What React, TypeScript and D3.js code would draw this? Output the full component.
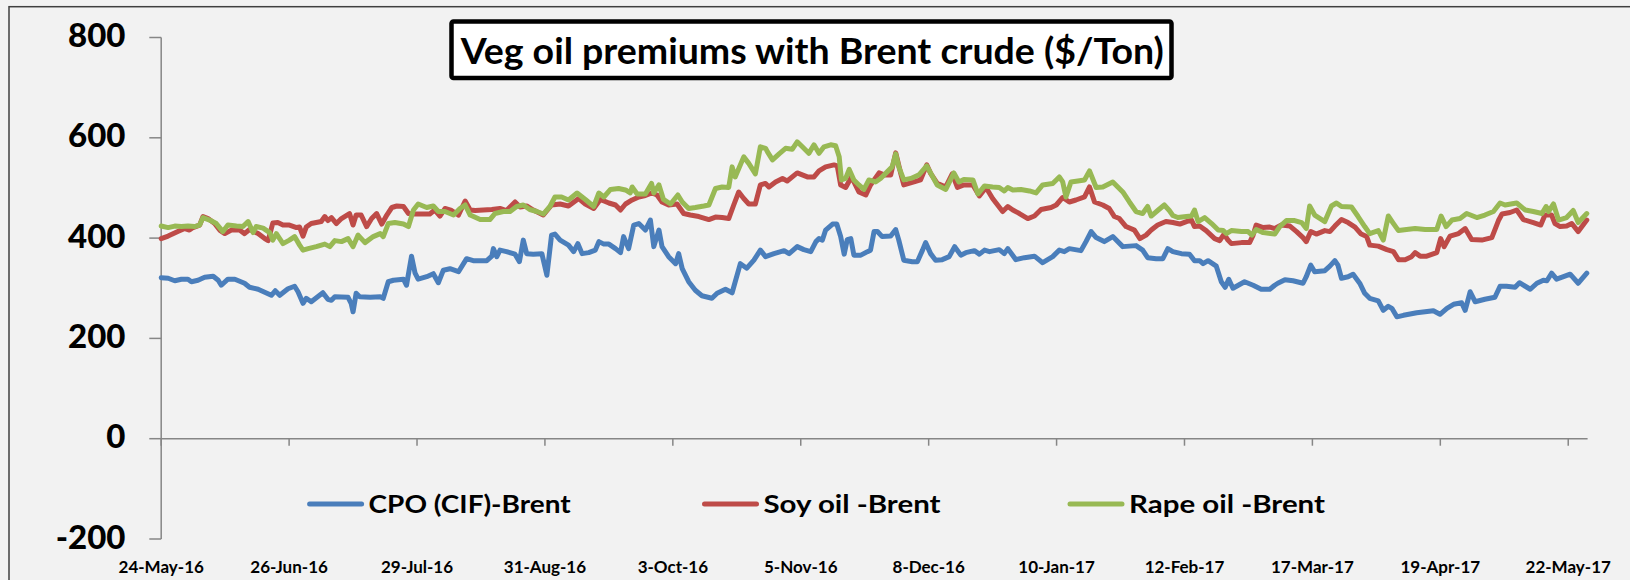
import React from 'react';
import * as d3 from 'd3';

// day offsets from 24-May-2016, premium in $/Ton
const START = '2016-05-24';
const END = '2017-05-27';

const xTickDates = [
  '2016-05-24', '2016-06-26', '2016-07-29', '2016-08-31', '2016-10-03', '2016-11-05',
  '2016-12-08', '2017-01-10', '2017-02-12', '2017-03-17', '2017-04-19', '2017-05-22',
];
const yTicks = [-200, 0, 200, 400, 600, 800];

const cpo: [number, number][] = [
  [0, 321], [1.8, 320], [3.5, 315], [5.2, 318], [6.9, 318], [7.8, 313], [9.5, 316], [11.2, 322], [13.4, 324], [14.7, 316],
  [15.5, 306], [17.2, 318], [19, 318], [21.5, 310], [22.8, 302], [25, 298], [28.4, 286], [29.4, 295], [30.6, 286], [32.7, 299],
  [34.4, 304], [35.3, 293], [36.6, 270], [37.4, 280], [38.7, 273], [41.7, 291], [43, 278], [43.9, 276], [44.8, 283], [48.2, 282],
  [49, 270], [49.5, 253], [50.3, 290], [51.2, 283], [53.9, 282], [56.5, 283], [57.3, 280], [58.6, 313], [59.9, 316], [62.5, 318],
  [63.3, 306], [64.6, 364], [65.5, 330], [66.3, 318], [68.5, 323], [70.2, 329], [71.5, 311], [72.8, 336], [74.5, 339], [76.7, 333],
  [78.8, 359], [80.5, 355], [84, 355], [85.3, 364], [85.7, 379], [86.6, 363], [87.4, 376], [89.1, 373], [91.3, 368], [92.4, 353],
  [93.4, 396], [94.3, 369], [96, 368], [98.2, 369], [99.5, 326], [100.7, 406], [101.6, 408], [102.9, 396], [105.1, 386], [106.4, 373],
  [107.5, 389], [108.6, 369], [110.3, 371], [112, 376], [112.9, 393], [114.2, 388], [115.5, 388], [117.2, 379], [118.5, 371], [119.3, 403],
  [120.6, 379], [121.9, 426], [123.2, 429], [124.9, 416], [126.2, 436], [127.1, 383], [128.4, 416], [129.2, 383], [130.9, 363], [132.7, 349],
  [133.5, 369], [134.4, 339], [136.1, 313], [137.8, 296], [139.5, 285], [142.1, 280], [143.4, 290], [145.6, 298], [147.3, 291], [149.4, 349],
  [151.1, 340], [152.9, 356], [154.6, 376], [155.9, 363], [158.1, 369], [160.7, 375], [162, 369], [164.1, 383], [165.8, 377], [167.6, 373],
  [168.9, 393], [169.7, 399], [170.6, 396], [171.4, 416], [173.2, 428], [174.3, 428], [175.3, 403], [176.2, 368], [177, 397], [177.9, 399],
  [178.7, 366], [180.5, 366], [182.2, 373], [183, 376], [183.9, 413], [184.8, 413], [186, 403], [188.2, 404], [189.5, 417], [190.3, 396],
  [191.6, 356], [193.8, 353], [195.1, 353], [196.4, 376], [197.2, 391], [198.5, 369], [199.8, 356], [201.5, 357], [203.3, 363], [204.7, 383],
  [206.3, 366], [207.6, 371], [209.8, 375], [211.1, 368], [212.4, 376], [213.7, 373], [216.2, 377], [217.5, 369], [218.4, 379], [220.5, 357],
  [222.7, 361], [225.3, 364], [227.4, 351], [230, 363], [231.7, 376], [233, 373], [234.3, 379], [237.3, 375], [238.6, 393], [239.9, 413],
  [241.2, 401], [243.3, 393], [245.5, 403], [248.1, 383], [249.8, 384], [251.5, 385], [253.2, 376], [254.5, 361], [256.7, 359], [258.4, 359],
  [259.7, 379], [261, 373], [263.2, 369], [265.3, 368], [266.6, 355], [267.9, 355], [268.8, 349], [270.1, 355], [272.2, 344], [273.5, 313],
  [274.5, 302], [275.4, 318], [276.5, 300], [279.5, 313], [281.7, 306], [283.8, 298], [286, 298], [287.3, 306], [288.1, 310], [289.9, 317],
  [292, 315], [294.6, 310], [295.4, 323], [296.6, 346], [297.6, 333], [300.2, 335], [301.5, 344], [302.8, 355], [303.6, 346], [304.5, 320],
  [306.2, 323], [307.5, 328], [309.2, 310], [310.5, 290], [311.8, 280], [314, 275], [315.3, 256], [316.6, 264], [317.5, 260], [318.8, 243],
  [320.5, 246], [323.9, 251], [328.2, 255], [329.9, 248], [331.7, 260], [333.4, 268], [335.5, 271], [336.4, 256], [337.7, 293], [339, 273],
  [341.5, 278], [344.1, 282], [345.4, 304], [347.1, 304], [349.3, 302], [350.4, 311], [351.9, 304], [353.2, 298], [354.9, 310], [356.6, 316],
  [357.5, 315], [358.7, 330], [360, 318], [361.8, 323], [363.5, 328], [365.6, 310], [367.8, 330],
];

const soy: [number, number][] = [
  [0, 399], [1.8, 404], [4.3, 413], [6.1, 419], [7.3, 416], [8.2, 421], [9.9, 426], [10.8, 443], [12.1, 439], [13.8, 429],
  [15.1, 416], [16.4, 409], [18.1, 416], [20.2, 416], [21.5, 409], [22.8, 417], [25, 409], [26.7, 399], [27.6, 395], [28.8, 430],
  [30.1, 431], [31.4, 426], [33.1, 426], [34.9, 421], [35.7, 422], [36.6, 404], [37.4, 422], [38.7, 429], [41.3, 433], [42.2, 443],
  [43, 435], [43.9, 441], [45.2, 429], [46.5, 439], [48.6, 449], [49.5, 426], [50.3, 446], [51.6, 446], [53, 423], [54.3, 439],
  [55.6, 449], [56.9, 428], [58.2, 446], [59.5, 461], [60.8, 464], [62.5, 463], [63.8, 449], [65.1, 448], [67.2, 448], [69.3, 448],
  [70.6, 456], [71.9, 444], [73.2, 459], [74.9, 455], [76.7, 446], [78.4, 474], [79.7, 456], [81, 455], [83.1, 456], [85.3, 457],
  [87.4, 459], [89.1, 455], [91.3, 472], [92.6, 462], [94.3, 464], [96, 456], [98.6, 446], [100.7, 466], [102.9, 468], [105.1, 464],
  [107.7, 479], [109.4, 468], [111.6, 459], [113.3, 477], [115.5, 470], [117.2, 466], [118.5, 456], [119.8, 468], [121.5, 476], [123.2, 482],
  [124.9, 485], [126.6, 490], [127.9, 486], [129.2, 472], [130.9, 466], [133.1, 468], [134.8, 449], [136.5, 446], [138.7, 443], [141.3, 437],
  [143, 442], [144.7, 441], [146.4, 439], [147.7, 466], [149, 492], [150.3, 479], [151.6, 468], [153.3, 468], [154.6, 506], [155.9, 509],
  [156.8, 502], [158.5, 512], [160.3, 519], [161.5, 514], [164.1, 530], [166.7, 522], [168.4, 522], [169.7, 534], [171.4, 542], [173.6, 546],
  [174.4, 544], [175.3, 506], [176.6, 501], [178.1, 522], [180, 492], [181.8, 486], [183, 506], [185.2, 530], [186.5, 526], [188.2, 526],
  [189.5, 570], [190.8, 529], [191.6, 506], [194.2, 512], [195.9, 516], [197.5, 546], [198.5, 529], [200.2, 509], [202.4, 502], [204.1, 528],
  [205.4, 501], [207.1, 506], [209.4, 506], [211.1, 484], [212.8, 501], [214.5, 479], [217.1, 453], [218.4, 463], [219.7, 456], [221.4, 449],
  [223.6, 439], [225.3, 444], [227, 457], [229.6, 461], [230.9, 466], [232.6, 481], [234.3, 472], [236, 476], [238.2, 482], [239.5, 502],
  [240.8, 472], [242.9, 466], [244.6, 459], [245.9, 443], [247.2, 439], [248.9, 423], [251.1, 416], [252.5, 399], [254.1, 406], [255.4, 416],
  [257.1, 426], [259.2, 433], [261, 431], [262.8, 428], [264.5, 433], [265.8, 436], [266.6, 423], [267.9, 424], [269.6, 415], [271.8, 399],
  [273.1, 395], [274.2, 408], [275.2, 396], [276.1, 389], [278.7, 391], [280.8, 391], [281.7, 406], [282.5, 426], [284.3, 421], [286, 422],
  [287.3, 419], [289, 426], [291.2, 424], [292.9, 413], [294.6, 401], [295.4, 393], [296.6, 413], [298, 408], [300.2, 415], [301.5, 413],
  [302.8, 424], [304.5, 437], [306.2, 431], [308, 422], [309.6, 408], [311, 403], [311.8, 386], [314, 384], [316.2, 377], [317.9, 373],
  [319.2, 357], [320.9, 357], [322.6, 363], [323.5, 371], [324.8, 364], [326.5, 364], [329.1, 371], [330.1, 399], [331, 383], [332.5, 404],
  [334.7, 409], [336.4, 419], [338.1, 397], [340.7, 396], [343.3, 401], [345, 435], [345.9, 448], [348, 451], [349.7, 456], [351.4, 437],
  [354, 431], [355.9, 426], [357, 446], [358.7, 446], [359.6, 429], [360.9, 423], [362.6, 424], [363.9, 429], [365.6, 413], [367.8, 436],
];

const rape: [number, number][] = [
  [0, 424], [1.8, 421], [3.5, 424], [5.2, 423], [6.9, 424], [8.6, 423], [9.9, 426], [10.8, 441], [12.5, 436], [14.2, 429],
  [15.9, 413], [17.2, 426], [19.4, 424], [21.1, 423], [22.4, 433], [23.7, 411], [24.5, 423], [26.3, 420], [28, 411], [28.8, 396],
  [29.7, 409], [31.4, 389], [33.1, 396], [34.4, 403], [35.7, 386], [36.6, 376], [37.9, 379], [40, 383], [42.2, 388], [43.5, 383],
  [44.8, 395], [46.5, 393], [48.2, 399], [49.5, 383], [50.8, 406], [52.6, 391], [54.7, 403], [56.5, 409], [57.3, 403], [58.6, 429],
  [60.3, 431], [62.5, 428], [63.8, 423], [65.1, 456], [66.3, 468], [68.5, 461], [70.2, 464], [71.5, 453], [73.2, 453], [75.4, 446],
  [77.1, 459], [78.4, 466], [79.7, 446], [82.3, 437], [84.8, 437], [86.1, 449], [88.3, 453], [90, 453], [91.7, 463], [93.4, 466],
  [95.1, 457], [96.9, 453], [98.6, 448], [100.3, 463], [101.6, 482], [103.3, 482], [105.1, 476], [107.3, 490], [109.4, 477], [111.6, 463],
  [112.9, 490], [114.2, 482], [115.9, 497], [118, 499], [119.8, 496], [121, 490], [121.5, 502], [122.8, 488], [124.9, 488], [126.5, 509],
  [127.1, 490], [128.4, 506], [129.6, 477], [131.4, 468], [133.3, 486], [134.4, 472], [136.1, 459], [137.8, 461], [140, 464], [141.3, 466],
  [143, 499], [144.7, 502], [146.4, 501], [147.3, 542], [148.1, 522], [150.3, 562], [151.6, 549], [153.3, 528], [154.6, 582], [155.9, 579],
  [156.4, 572], [157.7, 556], [159.4, 568], [161.1, 579], [162.8, 577], [164.1, 592], [165.4, 582], [167.1, 569], [168.4, 586], [169.7, 569],
  [171, 582], [172.7, 586], [174, 584], [174.9, 562], [175.5, 516], [176.6, 519], [177.5, 537], [178.7, 516], [180, 506], [181.3, 497],
  [182.6, 516], [184.3, 512], [185.6, 519], [187.3, 532], [188.6, 542], [189.5, 568], [190.3, 542], [191.6, 516], [193.4, 519], [195.5, 526],
  [197.5, 544], [198.9, 524], [200.2, 506], [202.4, 497], [204.5, 530], [205.8, 512], [207.1, 517], [209.4, 516], [210.7, 488], [212.4, 504],
  [214.5, 502], [216.2, 501], [217.5, 494], [218.4, 501], [219.7, 496], [221.8, 497], [224, 494], [225.7, 490], [227.4, 506], [230, 509],
  [231.7, 522], [232.6, 512], [233.4, 482], [234.7, 512], [236.5, 514], [238.2, 516], [239.5, 534], [241.2, 501], [242.9, 502], [245.5, 512],
  [248.1, 492], [249.8, 472], [251.5, 453], [253.2, 449], [254.5, 463], [255.4, 444], [257.1, 455], [258.8, 466], [260.1, 455], [261, 445],
  [262.3, 441], [264.5, 443], [265.8, 444], [266.6, 456], [267.5, 433], [269.2, 441], [271, 429], [272.7, 416], [274, 415], [274.8, 409],
  [276.1, 415], [278.7, 413], [280.4, 413], [281.4, 406], [282.5, 417], [284.3, 411], [287.3, 408], [288.6, 423], [290.3, 435], [292.4, 435],
  [294.2, 431], [295.4, 419], [296.3, 464], [297.6, 446], [300.2, 433], [301.9, 464], [303.2, 470], [304.5, 463], [307.1, 462], [308.8, 443],
  [310.5, 423], [311.8, 409], [314, 415], [315.3, 396], [316.6, 444], [317.9, 429], [319.2, 415], [321.3, 417], [323.5, 419], [326.1, 417],
  [329.1, 417], [330.2, 444], [331.5, 423], [333, 436], [335.1, 439], [336.8, 449], [339.4, 441], [341.5, 446], [343.7, 453], [345.4, 470],
  [346.7, 466], [349.7, 470], [351.9, 456], [354, 453], [356.2, 449], [357.3, 463], [357.9, 453], [359.2, 468], [360.5, 436], [362.6, 441],
  [364.3, 455], [365.6, 431], [367.8, 449],
];

const seriesNames = ['CPO (CIF)-Brent', 'Soy oil -Brent', 'Rape oil -Brent'];
const seriesColors = ['#4A7EBB', '#BE4B48', '#98B954'];
const seriesData = [cpo, soy, rape];

const FONT = "Lato, 'Open Sans', sans-serif";

export default function App() {
  const parse = d3.timeParse('%Y-%m-%d');
  const start = parse(START) as Date;
  const x = d3.scaleTime().domain([start, parse(END) as Date]).range([161.2, 1587.6]);
  const y = d3.scaleLinear().domain([-200, 800]).range([539, 37.5]);
  const fmt = d3.timeFormat('%-d-%b-%y');

  const line = d3
    .line<[number, number]>()
    .x((d) => x(d3.timeHour.offset(start, Math.round(d[0] * 24))))
    .y((d) => y(d[1]));

  const legendX = [309.6, 704.5, 1070];
  const legendW = [202, 177, 196];

  return (
    <svg
      width={1630}
      height={580}
      style={{ position: 'absolute', left: 0, top: 0, display: 'block' }}
      fontFamily={FONT}
      fontWeight="bold"
    >
      <rect x={0} y={0} width={1630} height={580} fill="#F2F2F2" />
      <rect x={9} y={6.7} width={1640} height={600} fill="#F2F2F2" stroke="#404040" strokeWidth={1.5} />

      {/* y axis */}
      <line x1={x.range()[0]} x2={x.range()[0]} y1={y(800)} y2={y(-200)} stroke="#868686" strokeWidth={1.5} />
      {yTicks.map((t) => (
        <g key={t}>
          <line x1={149.3} x2={x.range()[0]} y1={y(t)} y2={y(t)} stroke="#868686" strokeWidth={1.5} />
          <text x={125.5} y={y(t) + 9.5} textAnchor="end" fontSize={33} fontWeight={900} fill="#000">
            {t}
          </text>
        </g>
      ))}

      {/* x axis on zero */}
      <line x1={x.range()[0]} x2={x.range()[1]} y1={y(0)} y2={y(0)} stroke="#868686" strokeWidth={1.5} />
      {xTickDates.map((s) => {
        const d = parse(s) as Date;
        return (
          <g key={s}>
            <line x1={x(d)} x2={x(d)} y1={y(0)} y2={y(0) + 7} stroke="#868686" strokeWidth={1.5} />
            <text x={x(d)} y={573} textAnchor="middle" fontSize={17} fill="#000">
              {fmt(d)}
            </text>
          </g>
        );
      })}

      {/* series */}
      {seriesData.map((s, i) => (
        <path
          key={i}
          d={line(s) || ''}
          fill="none"
          stroke={seriesColors[i]}
          strokeWidth={5}
          strokeLinejoin="round"
          strokeLinecap="round"
        />
      ))}

      {/* legend */}
      {seriesNames.map((n, i) => (
        <g key={n}>
          <line
            x1={legendX[i]}
            x2={legendX[i] + 52}
            y1={504}
            y2={504}
            stroke={seriesColors[i]}
            strokeWidth={5}
            strokeLinecap="round"
          />
          <text
            x={legendX[i] + 59}
            y={513}
            fontSize={25}
            fill="#000"
            textLength={legendW[i]}
            lengthAdjust="spacingAndGlyphs"
          >
            {n}
          </text>
        </g>
      ))}

      {/* title */}
      <rect x={451.5} y={21.5} width={720} height={56.5} rx={2} fill="#fff" stroke="#000" strokeWidth={4.5} />
      <text x={460.7} y={64} fontSize={36} fill="#000" textLength={703} lengthAdjust="spacingAndGlyphs">
        Veg oil premiums with Brent crude ($/Ton)
      </text>
    </svg>
  );
}
